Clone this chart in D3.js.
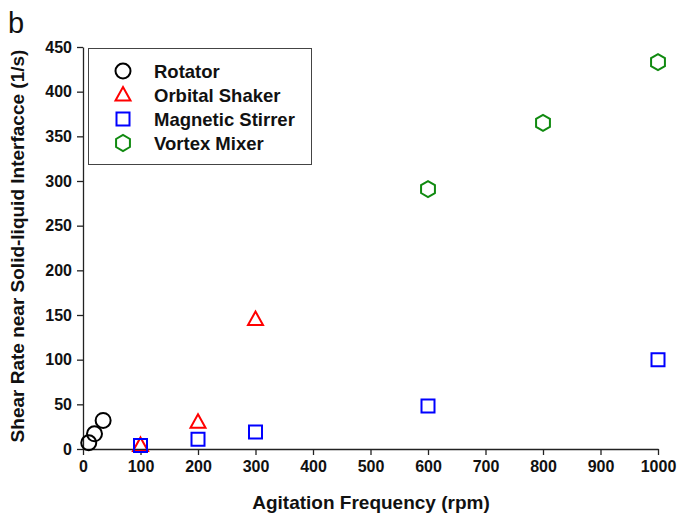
<!DOCTYPE html>
<html>
<head>
<meta charset="utf-8">
<script src="https://cdn.jsdelivr.net/npm/d3@7"></script>
<style>
  body { margin: 0; background: #fff; }
  svg { font-family: "Liberation Sans", Arial, sans-serif; }
  .tick text { font-size: 16px; font-weight: bold; fill: #111; }
  .axislabel { font-size: 19px; font-weight: bold; fill: #111; }
</style>
</head>
<body>
<div id="chartArea"></div>
<script>
// series data (rpm, shear rate 1/s)
var rotatorX = [10, 20, 35];
var rotatorY = [7, 17, 32];
var shakerX = [100, 200, 300];
var shakerY = [4, 30, 145];
var stirrerX = [100, 200, 300, 600, 1000];
var stirrerY = [4, 11, 19, 48, 100];
var vortexX = [600, 800, 1000];
var vortexY = [291, 365, 433];

var xTicks = [0, 100, 200, 300, 400, 500, 600, 700, 800, 900, 1000];
var yTicks = [0, 50, 100, 150, 200, 250, 300, 350, 400, 450];

var names = ["Rotator", "Orbital Shaker", "Magnetic Stirrer", "Vortex Mixer"];

(function() {
    var width = 678, height = 518;
    var left = 83, right = 658, top = 47, bottom = 449;

    var svg = d3.select("#chartArea").append("svg")
        .attr("width", width)
        .attr("height", height);

    var x = d3.scaleLinear().domain([0, 1000]).range([left, right]);
    var y = d3.scaleLinear().domain([0, 450]).range([bottom, top]);

    // axes
    var xAxis = svg.append("g")
        .attr("transform", "translate(0," + bottom + ")")
        .call(d3.axisBottom(x).tickValues(xTicks).tickFormat(d3.format("d"))
            .tickSize(6).tickPadding(6).tickSizeOuter(0));
    var yAxis = svg.append("g")
        .attr("transform", "translate(" + left + ",0)")
        .call(d3.axisLeft(y).tickValues(yTicks).tickFormat(d3.format("d"))
            .tickSize(6).tickPadding(5).tickSizeOuter(0));
    [xAxis, yAxis].forEach(function(a) {
        a.select(".domain").attr("stroke", "#222").attr("stroke-width", 1.3);
        a.selectAll(".tick line").attr("stroke", "#222").attr("stroke-width", 1.3);
    });

    // labels
    svg.append("text")
        .attr("class", "axislabel")
        .attr("x", 371)
        .attr("y", 509)
        .attr("text-anchor", "middle")
        .text("Agitation Frequency (rpm)");
    svg.append("text")
        .attr("class", "axislabel")
        .attr("transform", "translate(24,246)rotate(-90)")
        .attr("text-anchor", "middle")
        .text("Shear Rate near Solid-liquid Interfacce (1/s)");
    svg.append("text")
        .attr("x", 8)
        .attr("y", 33)
        .attr("font-size", 29)
        .attr("fill", "#111")
        .text("b");

    // marker shapes
    var hex = d3.symbol().type({
        draw: function(ctx, size) {
            var r = 8;
            for (var i = 0; i < 6; i++) {
                var a = Math.PI / 6 + i * Math.PI / 3;
                var px = r * Math.cos(a), py = r * Math.sin(a);
                if (i === 0) ctx.moveTo(px, py); else ctx.lineTo(px, py);
            }
            ctx.closePath();
        }
    })();
    var tri = d3.symbol().type({
        draw: function(ctx) {
            ctx.moveTo(0, -8);
            ctx.lineTo(7.5, 5.5);
            ctx.lineTo(-7.5, 5.5);
            ctx.closePath();
        }
    })();
    var sq = d3.symbol().type({
        draw: function(ctx) { ctx.rect(-6.5, -6.5, 13, 13); }
    })();
    var circ = d3.symbol().type({
        draw: function(ctx) { ctx.moveTo(7.5, 0); ctx.arc(0, 0, 7.5, 0, 2 * Math.PI); }
    })();

    var series = [
        {xs: rotatorX, ys: rotatorY, path: circ, color: "#000000"},
        {xs: shakerX, ys: shakerY, path: tri, color: "#ff0000"},
        {xs: stirrerX, ys: stirrerY, path: sq, color: "#0000ff"},
        {xs: vortexX, ys: vortexY, path: hex, color: "#108a10"}
    ];

    series.forEach(function(s) {
        svg.append("g").selectAll("path")
            .data(s.xs)
            .enter().append("path")
            .attr("d", s.path)
            .attr("transform", function(d, i) { return "translate(" + x(d) + "," + y(s.ys[i]) + ")"; })
            .attr("fill", "none")
            .attr("stroke", s.color)
            .attr("stroke-width", 2);
    });

    // legend
    var lg = svg.append("g");
    lg.append("rect")
        .attr("x", 88.5).attr("y", 48.5)
        .attr("width", 223).attr("height", 116)
        .attr("fill", "#fff")
        .attr("stroke", "#444")
        .attr("stroke-width", 1);
    series.forEach(function(s, i) {
        var yy = 71 + i * 24;
        lg.append("path")
            .attr("d", s.path)
            .attr("transform", "translate(123," + yy + ")")
            .attr("fill", "none")
            .attr("stroke", s.color)
            .attr("stroke-width", 2);
        lg.append("text")
            .attr("x", 154)
            .attr("y", yy + 7)
            .attr("font-size", 18.5)
            .attr("font-weight", "bold")
            .attr("fill", "#111")
            .text(names[i]);
    });
})();
</script>
</body>
</html>
